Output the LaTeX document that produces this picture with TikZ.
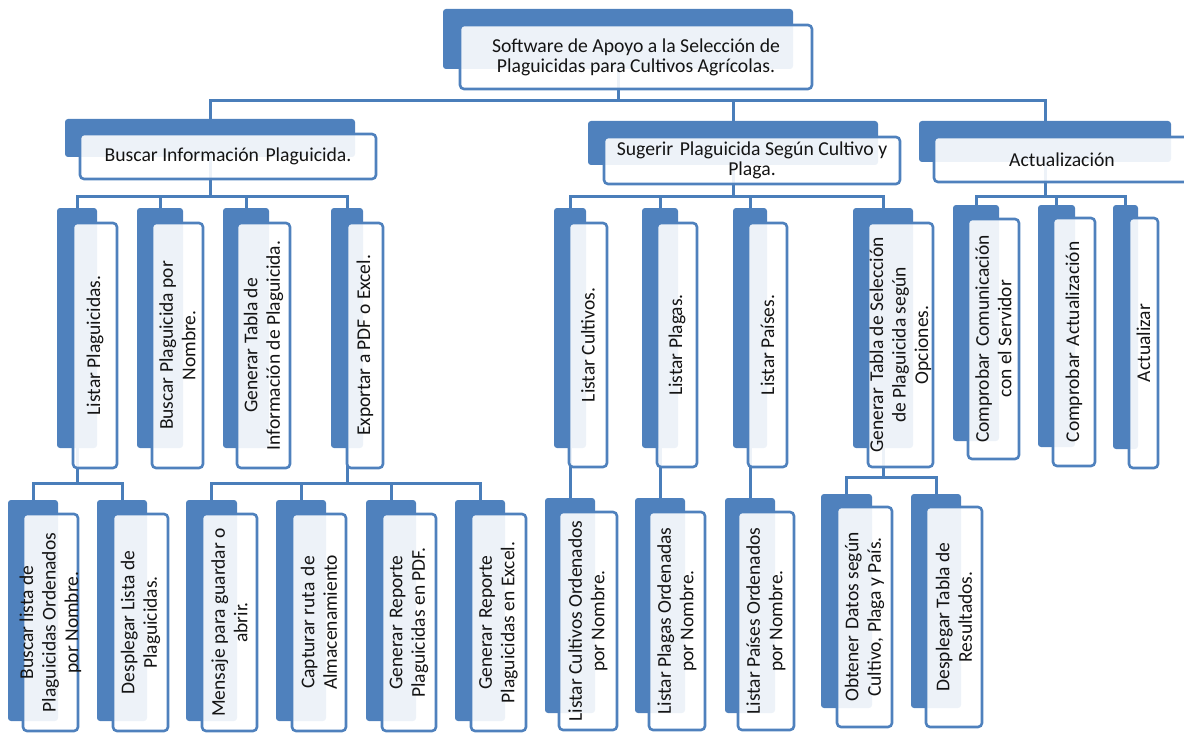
\documentclass[tikz,border=0pt]{standalone}
\usepackage{fontspec}
\setmainfont{Carlito}
\usetikzlibrary{fit}
\definecolor{smblue}{HTML}{4F81BD}
\definecolor{smline}{HTML}{4A7EBA}
\definecolor{smtext}{HTML}{141414}
\pgfdeclarelayer{bg}
\pgfsetlayers{bg,main}
\newcommand\smb[9]{%
  \node[backbox, fit={(#2,#3) (#4,#5)}] (#1B) {};
  \node[frontbox, fit={(#6,#7) (#8,#9)}] (#1F) {};
}
\newcommand\wsp{\ \hspace{2pt}}
\begin{document}
\begin{tikzpicture}[x=1pt,y=-1pt,
  backbox/.style={fill=smblue, draw=none, rounded corners=3pt, inner sep=0pt},
  frontbox/.style={draw=smblue, line width=2.6pt, fill=white, fill opacity=0.9, rounded corners=4pt, inner sep=0pt},
  conn/.style={draw=smline, line width=3pt},
  htxt/.style={align=center, inner sep=0pt, font=\fontsize{19.7}{20}\selectfont, text=smtext},
  vtxt/.style={align=center, inner sep=0pt, rotate=90, font=\fontsize{19.5}{22.5}\selectfont, text=smtext}]
\useasboundingbox (0,0) rectangle (1184,733);
\clip (0,0) rectangle (1184,733);
% level 0 and 1
\smb{top}{443}{9}{793}{69}{460}{25}{812}{89}
\smb{bus}{65}{119}{355}{157}{80}{134}{376}{179}
\smb{sug}{588}{121}{878}{165}{604}{137}{900}{184}
\smb{act}{919}{121}{1171}{162}{934}{137}{1200}{182}
% level 2
\smb{lp}{57}{208}{97}{448}{73}{223}{117}{468}
\smb{bp}{137}{208}{183}{448}{152}{223}{203}{468}
\smb{gt}{223}{208}{269}{448}{237}{223}{290}{468}
\smb{ex}{331}{208}{363}{448}{347}{223}{383}{468}
\smb{lc}{554}{208}{586}{448}{569}{223}{607}{467}
\smb{lpl}{642}{208}{678}{448}{657}{223}{697}{467}
\smb{lpa}{733}{208}{767}{448}{748}{223}{787}{467}
\smb{gts}{853}{208}{913}{448}{868}{223}{933}{467}
\smb{cc}{953}{205}{999}{441}{968}{219}{1019}{459}
\smb{ca}{1038}{205}{1075}{447}{1053}{218}{1095}{466}
\smb{au}{1113}{205}{1138}{449}{1129}{218}{1158}{468}
% level 3
\smb{la}{8}{500}{58}{721}{23}{514}{78}{731}
\smb{dl}{97}{500}{147}{721}{113}{514}{168}{731}
\smb{mg}{186}{500}{237}{721}{202}{514}{257}{731}
\smb{cr}{276}{500}{326}{721}{292}{514}{346}{731}
\smb{rp}{366}{500}{416}{721}{382}{514}{436}{731}
\smb{re}{455}{500}{505}{721}{471}{514}{526}{731}
\smb{oc}{545}{498}{595}{713}{559}{512}{617}{730}
\smb{op}{635}{498}{685}{713}{649}{512}{705}{730}
\smb{oa}{725}{498}{775}{713}{738}{512}{794}{730}
\smb{od}{821}{494}{872}{708}{837}{507}{892}{727}
\smb{dt}{911}{494}{961}{708}{926}{507}{982}{727}
% connectors
\coordinate (y0) at (0,101);
\coordinate (y1) at (0,197);
\coordinate (y2) at (0,483);
\coordinate (y3) at (0,477);
\begin{pgfonlayer}{bg}
\foreach \k in {bus,sug,act}
  \draw[conn] (topB.south) -- (topB.south |- y0) -| (\k B.north);
\foreach \k in {lp,bp,gt,ex}
  \draw[conn] (busB.south) -- (busB.south |- y1) -| (\k B.north);
\foreach \k in {lc,lpl,lpa,gts}
  \draw[conn] (sugB.south) -- (sugB.south |- y1) -| (\k B.north);
\foreach \k in {cc,ca,au}
  \draw[conn] (actB.south) -- (actB.south |- y1) -| (\k B.north);
\foreach \k in {la,dl}
  \draw[conn] (lpB.south) -- (lpB.south |- y2) -| (\k B.north);
\foreach \k in {mg,cr,rp,re}
  \draw[conn] (exB.south) -- (exB.south |- y2) -| (\k B.north);
\draw[conn] (lcB.south) -- (ocB.north);
\draw[conn] (lplB.south) -- (opB.north);
\draw[conn] (lpaB.south) -- (oaB.north);
\foreach \k in {od,dt}
  \draw[conn] (gtsB.south) -- (gtsB.south |- y3) -| (\k B.north);
\end{pgfonlayer}
% texts
\node[htxt] (topT) at (topF.center) {Software de Apoyo a la Selección de\\Plaguicidas para Cultivos Agrícolas.};
\node[htxt] (busT) at (busF.center) {Buscar Información\wsp Plaguicida.};
\node[htxt] (sugT) at (sugF.center) {Sugerir\wsp Plaguicida Según Cultivo y\\Plaga.};
\node[htxt] (actT) at (1062,160) {Actualización};
\node[vtxt] (lpT) at (lpF.center) {Listar Plaguicidas.};
\node[vtxt] (bpT) at (bpF.center) {Buscar Plaguicida por\\Nombre.};
\node[vtxt] (gtT) at (gtF.center) {Generar Tabla de\\Información de Plaguicida.};
\node[vtxt] (exT) at (exF.center) {Exportar a PDF o Excel.};
\node[vtxt] (lcT) at (lcF.center) {Listar Cultivos.};
\node[vtxt] (lplT) at (lplF.center) {Listar Plagas.};
\node[vtxt] (lpaT) at (lpaF.center) {Listar Países.};
\node[vtxt] (gtsT) at (gtsF.center) {Generar\wsp Tabla de Selección\\de Plaguicida según\\Opciones.};
\node[vtxt] (ccT) at (ccF.center) {Comprobar\wsp Comunicación\\con el Servidor};
\node[vtxt] (caT) at (caF.center) {Comprobar\wsp Actualización};
\node[vtxt] (auT) at (auF.center) {Actualizar};
\node[vtxt] (laT) at (laF.center) {Buscar lista de\\Plaguicidas Ordenados\\por Nombre.};
\node[vtxt] (dlT) at (dlF.center) {Desplegar Lista de\\Plaguicidas.};
\node[vtxt] (mgT) at (mgF.center) {Mensaje para guardar o\\abrir.};
\node[vtxt] (crT) at (crF.center) {Capturar ruta\wsp de\\Almacenamiento};
\node[vtxt] (rpT) at (rpF.center) {Generar\wsp Reporte\\Plaguicidas en PDF.};
\node[vtxt] (reT) at (reF.center) {Generar\wsp Reporte\\Plaguicidas en Excel.};
\node[vtxt] (ocT) at (ocF.center) {Listar Cultivos Ordenados\\por Nombre.};
\node[vtxt] (opT) at (opF.center) {Listar Plagas Ordenadas\\por Nombre.};
\node[vtxt] (oaT) at (oaF.center) {Listar Países Ordenados\\por Nombre.};
\node[vtxt] (odT) at (odF.center) {Obtener\wsp Datos según\\Cultivo, Plaga y País.};
\node[vtxt] (dtT) at (dtF.center) {Desplegar Tabla de\\Resultados.};
\end{tikzpicture}
\end{document}
